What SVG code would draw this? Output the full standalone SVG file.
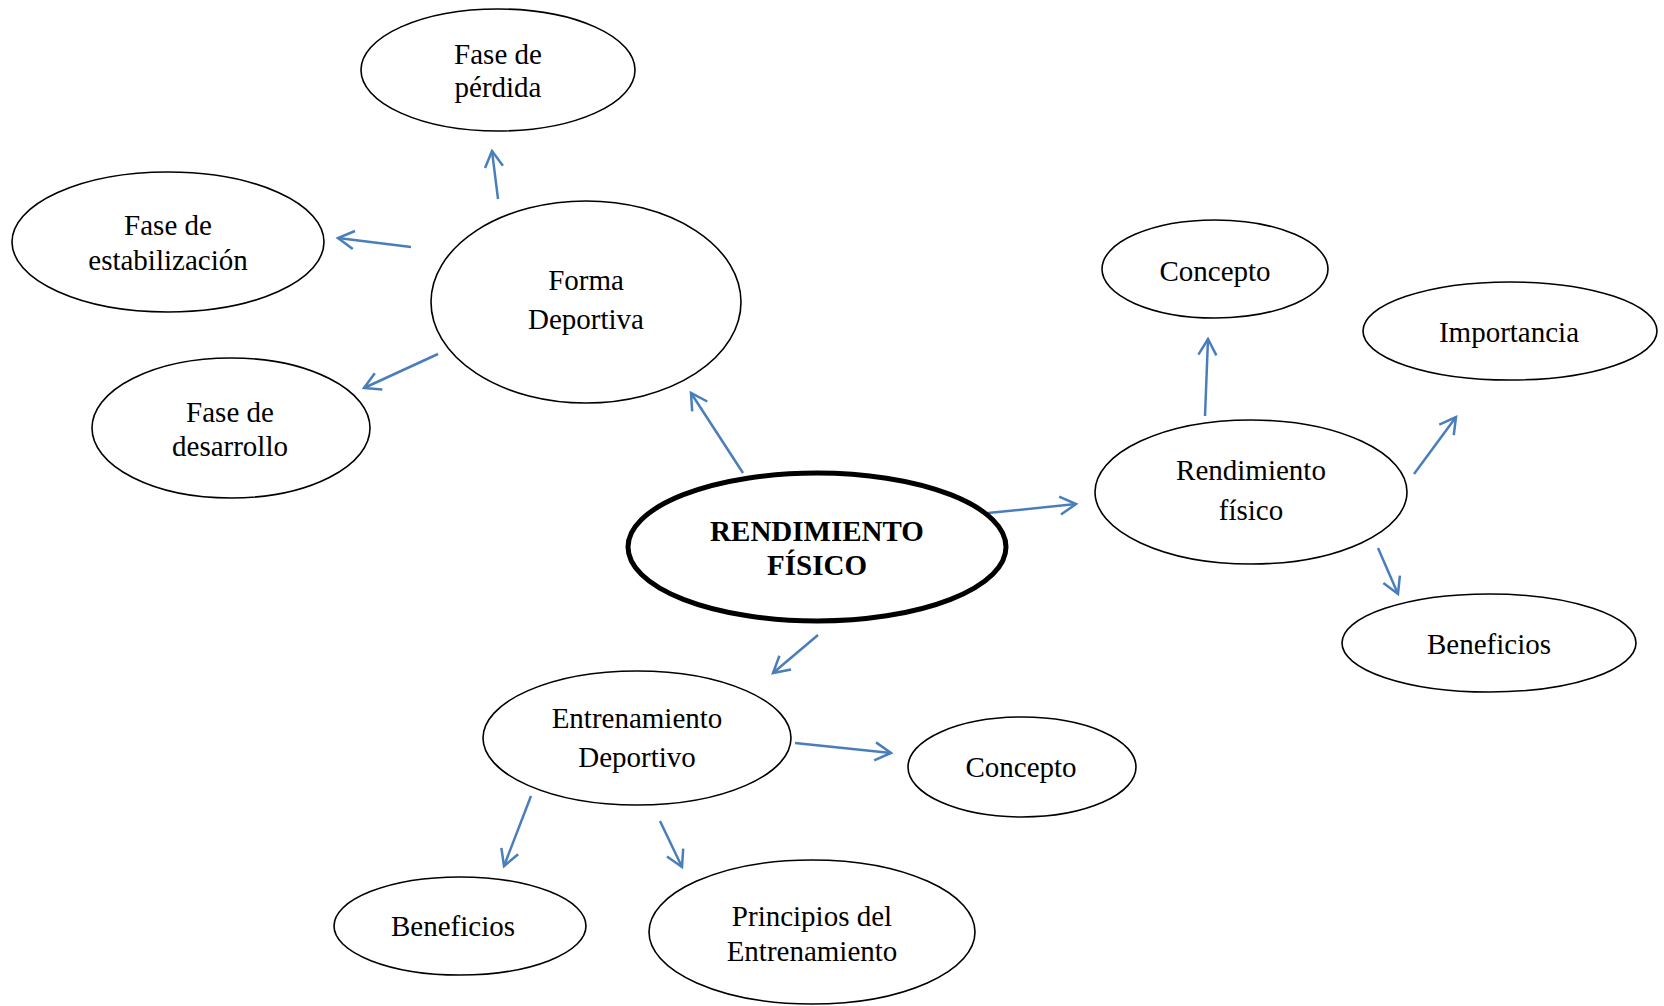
<svg xmlns="http://www.w3.org/2000/svg" width="1664" height="1006" viewBox="0 0 1664 1006">
<defs>
<marker id="arr" markerWidth="24" markerHeight="24" refX="17" refY="10" orient="auto" markerUnits="userSpaceOnUse" viewBox="0 0 24 20">
<path d="M1,1 L17,10 L1,19" fill="none" stroke="#4a7ebb" stroke-width="2.5"/>
</marker>
<style>
.n{fill:#fff;stroke:#000;stroke-width:1.6}
.c{fill:#fff;stroke:#000;stroke-width:5}
.t{font-family:"Liberation Serif","Times New Roman",serif;font-size:29px;fill:#000;text-anchor:middle}
.b{font-weight:bold}
.e{stroke:#4a7ebb;stroke-width:2.5;fill:none;marker-end:url(#arr)}
</style>
</defs>
<rect width="1664" height="1006" fill="#fff"/>
<g id="connectors">
<line class="e" x1="498" y1="199" x2="492" y2="151"/>
<line class="e" x1="411" y1="247" x2="338" y2="238"/>
<line class="e" x1="438" y1="354" x2="364" y2="388"/>
<line class="e" x1="743" y1="473" x2="691" y2="393"/>
<line class="e" x1="988" y1="513" x2="1076" y2="504"/>
<line class="e" x1="1205" y1="416" x2="1208" y2="339"/>
<line class="e" x1="1414" y1="474" x2="1456" y2="417"/>
<line class="e" x1="1378" y1="548" x2="1398" y2="594"/>
<line class="e" x1="818" y1="635" x2="773" y2="673"/>
<line class="e" x1="795" y1="743" x2="891" y2="753"/>
<line class="e" x1="531" y1="796" x2="504" y2="866"/>
<line class="e" x1="660" y1="821" x2="682" y2="867"/>
</g>
<g id="perdida"><ellipse class="n" cx="498" cy="70" rx="137" ry="61"/><text class="t" x="498" y="64">Fase de</text><text class="t" x="498" y="97">pérdida</text></g>
<g id="estabilizacion"><ellipse class="n" cx="168" cy="242" rx="156" ry="70"/><text class="t" x="168" y="235">Fase de</text><text class="t" x="168" y="270">estabilización</text></g>
<g id="forma"><ellipse class="n" cx="586" cy="302" rx="155" ry="101"/><text class="t" x="586" y="290">Forma</text><text class="t" x="586" y="329">Deportiva</text></g>
<g id="desarrollo"><ellipse class="n" cx="231" cy="428" rx="139" ry="70"/><text class="t" x="230" y="422">Fase de</text><text class="t" x="230" y="456">desarrollo</text></g>
<g id="central"><ellipse class="c" cx="817" cy="547" rx="189" ry="74"/><text class="t b" x="817" y="541">RENDIMIENTO</text><text class="t b" x="817" y="575">FÍSICO</text></g>
<g id="concepto1"><ellipse class="n" cx="1215" cy="269" rx="113" ry="49"/><text class="t" x="1215" y="281">Concepto</text></g>
<g id="importancia"><ellipse class="n" cx="1510" cy="331" rx="147" ry="49"/><text class="t" x="1509" y="342">Importancia</text></g>
<g id="rendimiento"><ellipse class="n" cx="1251" cy="492" rx="156" ry="72"/><text class="t" x="1251" y="480">Rendimiento</text><text class="t" x="1251" y="520">físico</text></g>
<g id="beneficios1"><ellipse class="n" cx="1489" cy="643" rx="147" ry="49"/><text class="t" x="1489" y="654">Beneficios</text></g>
<g id="entrenamiento"><ellipse class="n" cx="637" cy="738" rx="154" ry="67"/><text class="t" x="637" y="728">Entrenamiento</text><text class="t" x="637" y="767">Deportivo</text></g>
<g id="concepto2"><ellipse class="n" cx="1022" cy="767" rx="114" ry="50"/><text class="t" x="1021" y="777">Concepto</text></g>
<g id="beneficios2"><ellipse class="n" cx="460" cy="926" rx="126" ry="49"/><text class="t" x="453" y="936">Beneficios</text></g>
<g id="principios"><ellipse class="n" cx="812" cy="932" rx="163" ry="72"/><text class="t" x="812" y="926">Principios del</text><text class="t" x="812" y="961">Entrenamiento</text></g>
</svg>
